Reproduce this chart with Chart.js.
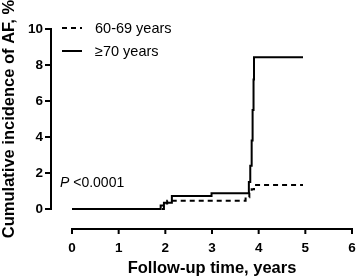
<!DOCTYPE html>
<html>
<head>
<meta charset="utf-8">
<script src="https://cdn.jsdelivr.net/npm/chart.js@4"></script>
<style>
  html, body { margin: 0; padding: 0; background: #fff; }
  canvas { display: block; }
</style>
</head>
<body>
<canvas id="c" width="358" height="278"></canvas>
<script>
// ---- Data ----
const seriesNames = ['60-69 years', '\u226570 years'];
const timeAge60 = [0, 1.97, 2.04, 3.72, 3.80, 3.85, 3.90, 4.95];
const incAge60  = [0, 0.30, 0.46, 0.65, 0.90, 1.10, 1.33, 1.33];
const timeAge70 = [0, 1.90, 1.97, 2.14, 2.99, 3.79, 3.82, 3.85, 3.87, 3.89, 3.90, 4.95];
const incAge70  = [0, 0.20, 0.35, 0.72, 0.87, 1.50, 2.40, 3.80, 5.50, 7.20, 8.43, 8.43];
const xTicks = [0, 1, 2, 3, 4, 5, 6];
const yTicks = [0, 2, 4, 6, 8, 10];
const xTitle = 'Follow-up time, years';
const yTitle = 'Cumulative incidence of AF, %';
const pText = '<0.0001';

const toPoints = (xs, ys) => xs.map((x, i) => ({ x: x, y: ys[i] }));

const AXIS_GAP = 20;
const axesPlugin = {
  id: 'offsetAxes',
  afterDraw(chart) {
    const ctx = chart.ctx;
    const xs = chart.scales.x, ys = chart.scales.y;
    const area = chart.chartArea;
    const axX = area.left - AXIS_GAP - 1;
    const axY = area.bottom + AXIS_GAP;
    ctx.save();
    ctx.strokeStyle = '#000';
    ctx.lineWidth = 2;
    ctx.lineCap = 'butt';
    // y axis
    ctx.beginPath();
    ctx.moveTo(axX, ys.getPixelForValue(yTicks[yTicks.length - 1]) - 1);
    ctx.lineTo(axX, ys.getPixelForValue(yTicks[0]) + 1);
    yTicks.forEach(v => {
      const p = ys.getPixelForValue(v);
      ctx.moveTo(axX - 6, p);
      ctx.lineTo(axX, p);
    });
    // x axis
    ctx.moveTo(xs.getPixelForValue(xTicks[0]) - 1, axY);
    ctx.lineTo(xs.getPixelForValue(xTicks[xTicks.length - 1]) + 1, axY);
    xTicks.forEach(v => {
      const p = xs.getPixelForValue(v);
      ctx.moveTo(p, axY);
      ctx.lineTo(p, axY + 5);
    });
    ctx.stroke();

    // legend
    const lx0 = 62, lx1 = 82, tx = 95;
    const ly = [28, 51];
    ctx.lineWidth = 2;
    chart.data.datasets.forEach((ds, i) => {
      ctx.setLineDash(ds.borderDash || []);
      ctx.beginPath();
      ctx.moveTo(lx0, ly[i]);
      ctx.lineTo(lx1, ly[i]);
      ctx.stroke();
    });
    ctx.setLineDash([]);
    ctx.fillStyle = '#000';
    ctx.textBaseline = 'middle';
    ctx.textAlign = 'left';
    ctx.font = '14.5px "Liberation Sans", Arial, sans-serif';
    chart.data.datasets.forEach((ds, i) => {
      ctx.fillText(ds.label, tx, ly[i] + 1);
    });

    // P value
    ctx.font = 'italic 14px "Liberation Sans", Arial, sans-serif';
    ctx.fillText('P', 60, 183);
    const pw = ctx.measureText('P ').width;
    ctx.font = '14px "Liberation Sans", Arial, sans-serif';
    ctx.fillText(pText, 60 + pw, 183);
    ctx.restore();
  }
};

new Chart(document.getElementById('c'), {
  type: 'line',
  data: {
    datasets: [
      {
        label: seriesNames[0],
        data: toPoints(timeAge60, incAge60),
        borderColor: '#000',
        borderWidth: 2,
        borderDash: [5, 4],
        stepped: 'before',
        pointRadius: 0,
        fill: false,
        clip: false
      },
      {
        label: seriesNames[1],
        data: toPoints(timeAge70, incAge70),
        borderColor: '#000',
        borderWidth: 2,
        stepped: 'before',
        pointRadius: 0,
        fill: false,
        clip: false
      }
    ]
  },
  options: {
    responsive: false,
    devicePixelRatio: 1,
    animation: false,
    layout: { padding: { left: 0, right: 6, top: 29, bottom: 0 } },
    plugins: { legend: { display: false }, tooltip: { enabled: false } },
    scales: {
      x: {
        type: 'linear',
        min: xTicks[0],
        max: xTicks[xTicks.length - 1],
        afterBuildTicks: s => { s.ticks = xTicks.map(v => ({ value: v })); },
        afterFit: s => { s.height = 69; s.paddingLeft = 0; s.paddingRight = 0; },
        grid: { display: false, drawTicks: false },
        border: { display: false },
        ticks: {
          color: '#000',
          padding: 31,
          maxRotation: 0,
          font: { family: '"Liberation Sans", Arial, sans-serif', size: 13.5, weight: 'bold' }
        },
        title: {
          display: true,
          text: xTitle,
          color: '#000',
          padding: { top: 0, bottom: 0 },
          font: { family: '"Liberation Sans", Arial, sans-serif', size: 16.5, weight: 'bold' }
        }
      },
      y: {
        type: 'linear',
        min: yTicks[0],
        max: yTicks[yTicks.length - 1],
        afterBuildTicks: s => { s.ticks = yTicks.map(v => ({ value: v })); },
        afterFit: s => { s.width = 72; s.paddingTop = 0; s.paddingBottom = 0; },
        grid: { display: false, drawTicks: false },
        border: { display: false },
        ticks: {
          color: '#000',
          padding: 29,
          font: { family: '"Liberation Sans", Arial, sans-serif', size: 13.5, weight: 'bold' }
        },
        title: {
          display: true,
          text: yTitle,
          color: '#000',
          padding: { top: 0, bottom: 0 },
          font: { family: '"Liberation Sans", Arial, sans-serif', size: 16.5, weight: 'bold' }
        }
      }
    }
  },
  plugins: [axesPlugin]
});
</script>
</body>
</html>
